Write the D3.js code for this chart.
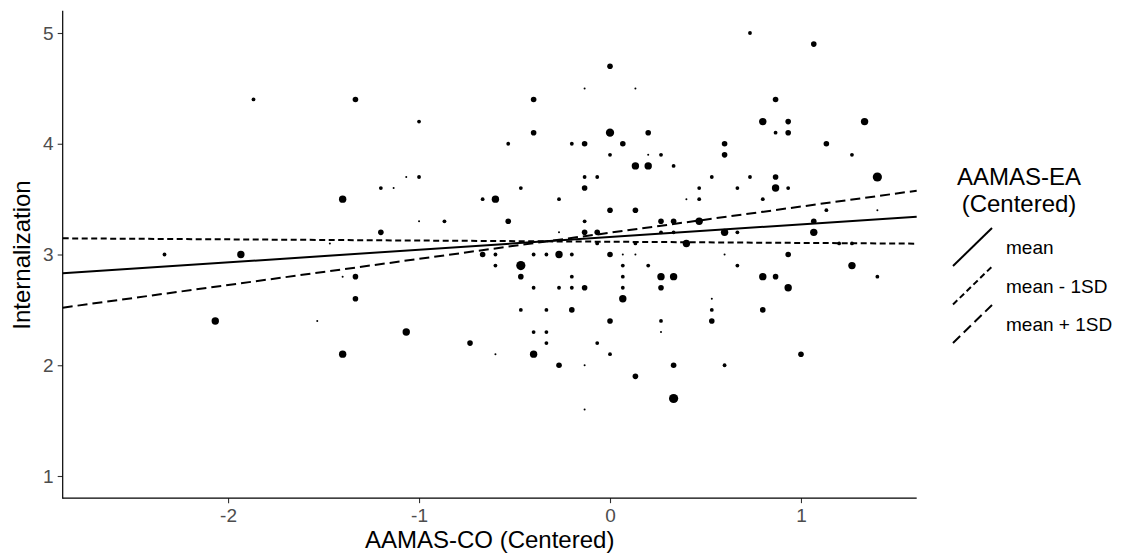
<!DOCTYPE html>
<html>
<head>
<meta charset="utf-8">
<script src="https://cdn.jsdelivr.net/npm/d3@7"></script>
<style>
  body { margin: 0; background: #fff; }
  svg { display: block; font-family: "Liberation Sans", Arial, sans-serif; }
</style>
</head>
<body>
<script>
// AAMAS-CO (centered) for each respondent
const pointX = [
  -2.333, -2.067, -1.933, -1.867, -1.533, -1.467, -1.4, -1.4, -1.4, -1.333, -1.333, -1.333,
  -1.2, -1.2, -1.133, -1.067, -1.067, -1.0, -1.0, -1.0, -0.867, -0.733,
  -0.667, -0.667, -0.6, -0.6, -0.6, -0.6, -0.533, -0.533,
  -0.467, -0.467, -0.467, -0.467, -0.4, -0.4, -0.4, -0.4, -0.4, -0.4,
  -0.333, -0.333, -0.333, -0.333, -0.267, -0.267, -0.267, -0.267, -0.267,
  -0.2, -0.2, -0.2, -0.2, -0.2,
  -0.133, -0.133, -0.133, -0.133, -0.133, -0.133, -0.133, -0.133, -0.133,
  -0.067, -0.067, -0.067, -0.067,
  0, 0, 0, 0, 0, 0, 0,
  0.067, 0.067, 0.067, 0.067, 0.067, 0.067,
  0.133, 0.133, 0.133, 0.133, 0.133, 0.133,
  0.2, 0.2, 0.2, 0.2,
  0.267, 0.267, 0.267, 0.267, 0.267, 0.267, 0.267,
  0.333, 0.333, 0.333, 0.333, 0.333, 0.333,
  0.4, 0.4,
  0.467, 0.467, 0.467,
  0.533, 0.533, 0.533, 0.533,
  0.6, 0.6, 0.6, 0.6, 0.6,
  0.667, 0.667, 0.667,
  0.733, 0.733,
  0.8, 0.8, 0.8, 0.8,
  0.867, 0.867, 0.867, 0.867, 0.867,
  0.933, 0.933, 0.933, 0.933, 0.933,
  1.0,
  1.067, 1.067, 1.067,
  1.133, 1.133,
  1.2,
  1.267, 1.267, 1.267,
  1.333,
  1.4, 1.4, 1.4
];
// Internalization
const pointY = [
  3.0, 2.4, 3.0, 4.4, 2.4, 3.1, 3.5, 2.8, 2.1, 4.4, 2.8, 2.6,
  3.6, 3.2, 3.6, 3.7, 2.3, 4.2, 3.7, 3.3, 3.3, 2.2,
  3.5, 3.0, 3.5, 3.0, 2.9, 2.1, 4.0, 3.3,
  3.6, 2.9, 2.8, 2.5, 4.4, 4.1, 3.0, 2.7, 2.3, 2.1,
  3.0, 2.5, 2.3, 2.2, 3.5, 3.2, 3.0, 2.7, 2.0,
  4.0, 3.0, 2.8, 2.7, 2.5,
  4.5, 4.0, 3.7, 3.6, 3.3, 3.2, 2.7, 2.0, 1.6,
  3.7, 3.2, 3.1, 2.2,
  4.7, 4.1, 3.9, 3.4, 3.0, 2.4, 2.1,
  4.0, 3.0, 2.9, 2.8, 2.7, 2.6,
  4.5, 3.8, 3.4, 3.1, 3.0, 1.9,
  4.1, 3.9, 3.8, 2.9,
  3.9, 3.3, 3.2, 2.8, 2.7, 2.4, 2.3,
  3.8, 3.3, 3.2, 2.8, 2.0, 1.7,
  3.5, 3.1,
  3.6, 3.5, 3.3,
  3.7, 2.6, 2.5, 2.4,
  4.0, 3.9, 3.2, 3.0, 2.0,
  3.6, 3.2, 2.9,
  5.0, 3.7,
  4.2, 3.5, 2.8, 2.5,
  4.4, 4.1, 3.7, 3.6, 2.8,
  4.2, 4.1, 3.6, 3.0, 2.7,
  2.1,
  4.9, 3.3, 3.2,
  4.0, 3.4,
  3.1,
  3.9, 3.1, 2.9,
  4.2,
  3.7, 3.4, 2.8
];
// point size level (1 = smallest, 5 = largest)
const pointSize = [
  2, 4, 4, 2, 1, 1, 4, 1, 4, 3, 3, 3,
  2, 3, 1, 1, 4, 2, 2, 1, 2, 3,
  2, 3, 4, 2, 2, 1, 2, 3,
  2, 5, 3, 2, 3, 3, 2, 2, 2, 4,
  2, 2, 2, 2, 2, 1, 4, 2, 3,
  2, 2, 2, 2, 3,
  1, 3, 2, 3, 2, 3, 3, 1, 1,
  2, 3, 2, 2,
  3, 4.5, 2, 3, 3, 3, 2,
  3, 1, 2, 2, 2, 4,
  1, 4, 3, 2, 1, 3,
  3, 1, 4, 2,
  2, 3, 2, 4, 3, 2, 1,
  2, 3, 2, 4, 3, 5,
  1, 4,
  2, 2, 4,
  2, 1, 2, 3,
  3, 3, 4, 1, 2,
  2, 2, 2,
  2, 2,
  4, 2, 4, 3,
  3, 2, 3, 4, 3,
  3, 3, 2, 3, 4,
  3,
  3, 3, 4,
  3, 2,
  2,
  2, 2, 4,
  4,
  5, 1, 2
];

// simple slopes: predicted Internalization at the left and right plot edges
const lineLabels = ["mean", "mean - 1SD", "mean + 1SD"];
const lineDash = ["none", "6,3.5", "10,5"];
const lineEdgeX = [-2.866, 1.606];
const lineStartY = [2.83, 3.146, 2.52];
const lineEndY = [3.341, 3.098, 3.576];

const xTicks = [-2, -1, 0, 1];
const yTicks = [1, 2, 3, 4, 5];

const width = 1122;
const height = 559;
const plotLeft = 62.7, plotRight = 916.7, plotTop = 10.85, plotBottom = 498.15;

const x = d3.scaleLinear().domain([-2.866, 1.606]).range([plotLeft, plotRight]);
const y = d3.scaleLinear().domain([0.8, 5.2]).range([plotBottom, plotTop]);
const r = d3.scaleLinear().domain([1, 5]).range([1.0, 4.6]);

const svg = d3.select("body").append("svg")
    .attr("width", width)
    .attr("height", height);

// points
const points = pointX.map((d, i) => ({ x: d, y: pointY[i], s: pointSize[i] }));
svg.append("g")
    .selectAll("circle")
    .data(points)
    .enter()
    .append("circle")
    .attr("cx", d => x(d.x))
    .attr("cy", d => y(d.y))
    .attr("r", d => r(d.s))
    .attr("fill", "#000");

// regression lines
const lines = lineLabels.map((label, i) => ({
    label: label,
    dash: lineDash[i],
    pts: [[lineEdgeX[0], lineStartY[i]], [lineEdgeX[1], lineEndY[i]]]
}));
const lineGen = d3.line().x(d => x(d[0])).y(d => y(d[1]));

svg.append("g")
    .selectAll("path")
    .data(lines)
    .enter()
    .append("path")
    .attr("d", d => lineGen(d.pts))
    .attr("fill", "none")
    .attr("stroke", "#000")
    .attr("stroke-width", 2)
    .attr("stroke-dasharray", d => d.dash);

// axes (plain hyphen for negatives, like the original)
const xAxis = d3.axisBottom(x).tickValues(xTicks).tickSize(5).tickPadding(5).tickFormat(d => String(d));
const yAxis = d3.axisLeft(y).tickValues(yTicks).tickSize(5).tickPadding(4).tickFormat(d => String(d));

const gx = svg.append("g")
    .attr("transform", `translate(0, ${plotBottom})`)
    .call(xAxis);
const gy = svg.append("g")
    .attr("transform", `translate(${plotLeft}, 0)`)
    .call(yAxis);

[gx, gy].forEach(g => {
    g.select(".domain").remove();
    g.selectAll(".tick line").attr("stroke", "#333").attr("stroke-width", 1.1);
    g.selectAll(".tick text")
        .attr("fill", "#4d4d4d")
        .style("font-size", "19px")
        .style("font-family", "'Liberation Sans', Arial, sans-serif");
});

svg.append("line")
    .attr("x1", plotLeft).attr("x2", plotRight)
    .attr("y1", plotBottom).attr("y2", plotBottom)
    .attr("stroke", "#000").attr("stroke-width", 1.2);
svg.append("line")
    .attr("x1", plotLeft).attr("x2", plotLeft)
    .attr("y1", plotTop).attr("y2", plotBottom + 0.6)
    .attr("stroke", "#000").attr("stroke-width", 1.2);

// axis titles
svg.append("text")
    .attr("x", (plotLeft + plotRight) / 2)
    .attr("y", 548)
    .attr("text-anchor", "middle")
    .style("font-size", "24px")
    .text("AAMAS-CO (Centered)");

svg.append("text")
    .attr("transform", "translate(30, 255) rotate(-90)")
    .attr("text-anchor", "middle")
    .style("font-size", "24px")
    .text("Internalization");

// legend
const legend = svg.append("g");
legend.append("text")
    .attr("x", 1019).attr("y", 185)
    .attr("text-anchor", "middle")
    .style("font-size", "24px")
    .text("AAMAS-EA");
legend.append("text")
    .attr("x", 1019).attr("y", 212)
    .attr("text-anchor", "middle")
    .style("font-size", "24px")
    .text("(Centered)");

const keys = legend.selectAll("g.key")
    .data(lines)
    .enter()
    .append("g")
    .attr("class", "key")
    .attr("transform", (d, i) => `translate(953, ${228 + i * 38.5})`);

keys.append("line")
    .attr("x1", 0).attr("y1", 38)
    .attr("x2", 39).attr("y2", 0)
    .attr("stroke", "#000")
    .attr("stroke-width", 2)
    .attr("stroke-dasharray", d => d.dash);

keys.append("text")
    .attr("x", 53)
    .attr("y", 26)
    .style("font-size", "19px")
    .text(d => d.label);
</script>
</body>
</html>
